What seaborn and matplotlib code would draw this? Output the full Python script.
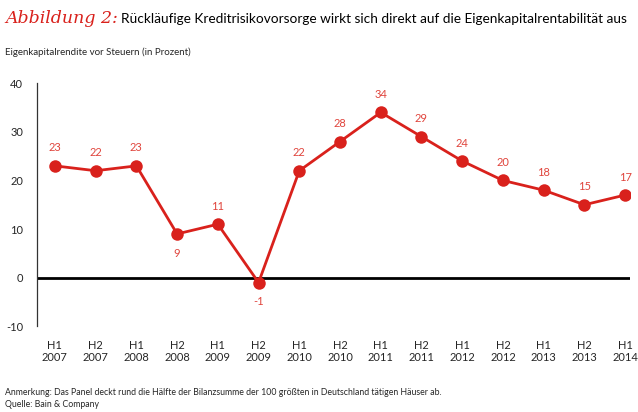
import matplotlib
matplotlib.use("Agg")
import matplotlib.pyplot as plt
import seaborn as sns
import pandas as pd

periods = ["H1\n2007", "H2\n2007", "H1\n2008", "H2\n2008", "H1\n2009", "H2\n2009",
           "H1\n2010", "H2\n2010", "H1\n2011", "H2\n2011", "H1\n2012", "H2\n2012",
           "H1\n2013", "H2\n2013", "H1\n2014"]
values = [23, 22, 23, 9, 11, -1, 22, 28, 34, 29, 24, 20, 18, 15, 17]
below = [3, 5]  # indices with labels below the point
yticks = [-10, 0, 10, 20, 30, 40]

sns.set_theme(style="white")
plt.rcParams['font.family'] = ['Lato', 'DejaVu Sans']

red = "#d9211c"
label_red = "#e0443c"

df = pd.DataFrame({"x": range(len(values)), "y": values})

fig = plt.figure(figsize=(6.38, 4.12), dpi=100)
ax = fig.add_axes([0.058, 0.208, 0.9295, 0.59])

ax.axhline(0, color="black", lw=2.0, zorder=1)
sns.lineplot(data=df, x="x", y="y", ax=ax, color=red, lw=2, marker="o",
             markersize=9, markeredgewidth=0, zorder=3)

for i, v in enumerate(values):
    if i in below:
        ax.annotate(str(v), (i, v), xytext=(0, -10), textcoords="offset points",
                    ha="center", va="top", color=label_red, fontsize=8)
    else:
        ax.annotate(str(v), (i, v), xytext=(0, 9), textcoords="offset points",
                    ha="center", va="bottom", color=label_red, fontsize=8)

ax.set_xlim(-0.44, 14.12)
ax.set_ylim(-10, 40)
ax.set_yticks(yticks)
ax.set_yticklabels([str(t) for t in yticks], fontsize=8)
ax.set_xticks(range(len(periods)))
ax.set_xticklabels(periods, fontsize=8, linespacing=1.1)
ax.tick_params(axis="y", length=0, pad=10)
ax.tick_params(axis="x", length=0, pad=10)
ax.set_xlabel("")
ax.set_ylabel("")
for s in ["top", "right", "bottom"]:
    ax.spines[s].set_visible(False)
ax.spines["left"].set_color("#333333")
ax.spines["left"].set_linewidth(0.9)

fig.text(0.008, 0.955, "Abbildung 2:", color=red, fontsize=12.5, style="italic",
         family=["DejaVu Serif"], va="center")
fig.text(0.19, 0.955, "Rückläufige Kreditrisikovorsorge wirkt sich direkt auf die Eigenkapitalrentabilität aus",
         color="black", fontsize=9.8, va="center")
fig.text(0.008, 0.873, "Eigenkapitalrendite vor Steuern (in Prozent)", fontsize=7, va="center")
fig.text(0.008, 0.048, "Anmerkung: Das Panel deckt rund die Hälfte der Bilanzsumme der 100 größten in Deutschland tätigen Häuser ab.",
         fontsize=6.3, va="center")
fig.text(0.008, 0.018, "Quelle: Bain & Company", fontsize=6.3, va="center")

fig.savefig("out.png", dpi=100)
